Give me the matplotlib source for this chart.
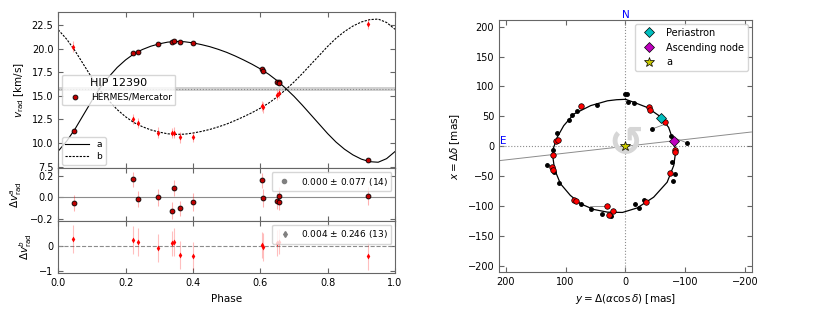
import matplotlib.pyplot as plt
from matplotlib.lines import Line2D

# ---- radial velocity model curves ----
phase_model = [0.0, 0.025, 0.05, 0.075, 0.10, 0.125, 0.15, 0.175, 0.20, 0.225,
               0.25, 0.275, 0.30, 0.325, 0.35, 0.375, 0.40, 0.425, 0.45, 0.475,
               0.50, 0.525, 0.55, 0.575, 0.60, 0.625, 0.65, 0.675, 0.70, 0.725,
               0.75, 0.775, 0.80, 0.825, 0.85, 0.875, 0.90, 0.925, 0.95, 0.975, 1.0]
va_model = [9.15, 10.2, 11.5, 13.0, 14.5, 15.9, 17.0, 18.0, 18.8, 19.45,
            19.9, 20.25, 20.5, 20.68, 20.75, 20.72, 20.6, 20.42, 20.2, 19.92,
            19.6, 19.22, 18.8, 18.35, 17.85, 17.28, 16.6, 15.8, 14.95, 14.0,
            13.0, 12.0, 11.0, 10.1, 9.35, 8.75, 8.3, 8.03, 7.97, 8.35, 9.1]
vb_model = [21.99, 20.99, 19.75, 18.32, 16.89, 15.55, 14.5, 13.54, 12.78, 12.16,
            11.73, 11.39, 11.16, 10.98, 10.92, 10.94, 11.06, 11.23, 11.44, 11.71,
            12.01, 12.38, 12.78, 13.21, 13.69, 14.23, 14.88, 15.64, 16.46, 17.36,
            18.32, 19.27, 20.23, 21.09, 21.8, 22.38, 22.81, 23.06, 23.12, 22.76, 22.04]
v_gamma = 15.72

# ---- HERMES/Mercator measurements ----
phase_a = [0.047, 0.221, 0.236, 0.297, 0.338, 0.343, 0.363, 0.400, 0.604, 0.608,
           0.651, 0.655, 0.656, 0.920]
va_obs = [11.31, 19.5, 19.67, 20.52, 20.66, 20.84, 20.66, 20.59, 17.84, 17.63,
          16.5, 16.43, 16.38, 8.17]
res_a = [-0.055, 0.166, -0.012, 0.0, -0.123, 0.086, -0.10, -0.043, 0.16, -0.006,
         -0.031, 0.015, -0.043, 0.012]
err_a = [0.075, 0.07, 0.075, 0.08, 0.075, 0.075, 0.07, 0.08, 0.07, 0.08,
         0.075, 0.08, 0.075, 0.08]

phase_b = [0.045, 0.221, 0.236, 0.297, 0.338, 0.343, 0.363, 0.400, 0.604, 0.608,
           0.651, 0.655, 0.920]
vb_obs = [20.2, 12.54, 12.12, 11.1, 11.05, 11.1, 10.6, 10.67, 13.92, 13.78,
          15.1, 15.27, 22.6]
res_b = [0.28, 0.22, 0.14, -0.1, 0.1, 0.16, -0.37, -0.42, 0.03, -0.06,
         0.11, 0.16, -0.41]
err_b = [0.55, 0.55, 0.55, 0.55, 0.5, 0.55, 0.55, 0.55, 0.5, 0.55, 0.5, 0.5, 0.55]

# ---- astrometric orbit (mas) ----
orbit_ra = [0, 15, 30, 58, 86, 103, 114, 120.5, 121.5, 119.5, 116.5, 108.5, 92, 75,
            53, 30, 5, -19.5, -47, -69.5, -80.5, -84, -80.5, -72, -58.3, -36, -14, 0]
orbit_dec = [78.5, 77.8, 76, 68, 54, 34.5, 15, -4, -15, -30, -43, -62.5, -82, -96,
             -105.5, -110, -110.5, -103, -85, -60, -32, -7, 7, 31.5, 49.5, 65, 73.5, 78.5]

dots_ra = [-1.7, 1.5, -3.5, -15, 48, 80.6, 88.9, 94.4, 113.9, 120.6, 130.6, 120, 111,
           75, 58.3, 38.9, 23.9, -15.6, -22.2, -31.7, -77.8, -83.3, -79.4, -76,
           -102.8, -44.5]
dots_dec = [87, 87, 74, 72, 69.5, 58.3, 52.2, 44, 21.7, -6, -30.5, -42.2, -61,
            -96, -105.5, -112.7, -116.7, -97.2, -102.7, -89, -26.7, -46, -57.2, 17.8,
            5.6, 29]

red_ra = [74, 116.7, 112.2, 120.6, 123.3, 120.6, 86, 82.2, 30.5, 20.5, 26.7, -35,
          -75, -83.3, -83.3, -38.9, -41.7, -66.7]
red_dec = [66.7, 9.5, 10.6, -14.4, -35, -38.8, -89.4, -92.2, -99.4, -108.3, -114.4,
           -93.3, -44.4, -5.5, -8.9, 66.2, 60.6, 40]

link_ra = [[59.5, 30.5], [-64, -44.5], [-79, -102.8]]
link_dec = [[-99.4, -99.4], [36.2, 29], [15, 5.6]]

node_ra = [210, -210]
node_dec = [-23.9, 23.9]
peri_ra, peri_dec = -60, 47.2
asc_ra, asc_dec = -80.5, 8.4

plt.rcParams['font.size'] = 7
plt.rcParams['xtick.direction'] = 'in'
plt.rcParams['ytick.direction'] = 'in'
plt.rcParams['xtick.top'] = True
plt.rcParams['ytick.right'] = True
plt.rcParams['axes.edgecolor'] = '0.4'
plt.rcParams['xtick.color'] = '0.4'
plt.rcParams['ytick.color'] = '0.4'
plt.rcParams['xtick.labelcolor'] = 'black'
plt.rcParams['ytick.labelcolor'] = 'black'
plt.rcParams['xtick.labelsize'] = 7
plt.rcParams['ytick.labelsize'] = 7

fig = plt.figure(figsize=(8.3, 3.12), dpi=100)
ax1 = fig.add_axes([0.0702, 0.4606, 0.4057, 0.5019])
ax2 = fig.add_axes([0.0702, 0.2917, 0.4057, 0.1689])
ax3 = fig.add_axes([0.0702, 0.1240, 0.4057, 0.1677])
ax4 = fig.add_axes([0.6012, 0.1282, 0.3048, 0.8077])

# top panel: radial velocities
ax1.axhspan(v_gamma - 0.17, v_gamma + 0.17, color='0.82', lw=0)
ax1.axhline(v_gamma, color='0.55', ls=':', lw=0.8)
la, = ax1.plot(phase_model, va_model, color='k', lw=0.8, label='a')
lb, = ax1.plot(phase_model, vb_model, color='k', lw=0.8, ls=(0, (2, 1.2)), label='b')
ax1.errorbar(phase_b, vb_obs, yerr=err_b, fmt='d', color='red', ms=3, mew=0,
             ecolor=(1, 0, 0, 0.3), elinewidth=0.8, zorder=3)
ax1.errorbar(phase_a, va_obs, yerr=err_a, fmt='o', mfc='#c00000', mec='k', mew=0.6,
             ms=3.5, ecolor=(1, 0, 0, 0.3), elinewidth=0.8, zorder=4)
ax1.set_xlim(0, 1)
ax1.set_ylim(7.33, 23.9)
ax1.set_yticks([7.5, 10.0, 12.5, 15.0, 17.5, 20.0, 22.5])
ax1.set_xticks([0, 0.2, 0.4, 0.6, 0.8, 1.0])
ax1.tick_params(labelbottom=False)
ax1.set_ylabel('$v_{\\rm rad}$ [km/s]', fontsize=7.5)

hermes = Line2D([], [], ls='none', marker='o', mfc='#c00000', mec='k', mew=0.6, ms=3.5)
leg1 = ax1.legend(handles=[hermes], labels=['HERMES/Mercator'], title='HIP 12390',
                  loc='center left', fontsize=6.5, title_fontsize=8, borderaxespad=0.4)
ax1.add_artist(leg1)
ax1.legend(handles=[la, lb], loc='lower left', fontsize=6.5, handlelength=2.6,
           borderaxespad=0.4, labelspacing=0.3)

# residuals of component a
ax2.axhline(0, color='0.55', lw=0.8)
ax2.errorbar(phase_a, res_a, yerr=err_a, fmt='o', mfc='#c00000', mec='k', mew=0.6,
             ms=3.5, ecolor=(1, 0, 0, 0.3), elinewidth=0.8)
ax2.set_xlim(0, 1)
ax2.set_ylim(-0.22, 0.27)
ax2.set_yticks([-0.2, 0.0, 0.2])
ax2.set_xticks([0, 0.2, 0.4, 0.6, 0.8, 1.0])
ax2.tick_params(labelbottom=False)
ax2.set_ylabel('$\\Delta v^{a}_{\\rm rad}$', fontsize=7.5)
pa = Line2D([], [], ls='none', marker='o', color='0.5', ms=3)
ax2.legend(handles=[pa], labels=['0.000 $\\pm$ 0.077 (14)'], loc='upper right',
           fontsize=6.5, borderaxespad=0.4)

# residuals of component b
ax3.axhline(0, color='0.55', lw=0.8, ls='--')
ax3.errorbar(phase_b, res_b, yerr=err_b, fmt='d', color='red', ms=3, mew=0,
             ecolor=(1, 0, 0, 0.25), elinewidth=0.8)
ax3.set_xlim(0, 1)
ax3.set_ylim(-1.09, 0.98)
ax3.set_yticks([-1, 0])
ax3.set_xticks([0, 0.2, 0.4, 0.6, 0.8, 1.0])
ax3.set_xlabel('Phase', fontsize=7.5)
ax3.set_ylabel('$\\Delta v^{b}_{\\rm rad}$', fontsize=7.5)
pb = Line2D([], [], ls='none', marker='d', color='0.5', ms=3)
ax3.legend(handles=[pb], labels=['0.004 $\\pm$ 0.246 (13)'], loc='upper right',
           fontsize=6.5, borderaxespad=0.4)

# astrometric orbit
ax4.axhline(0, color='0.55', ls=':', lw=0.8)
ax4.axvline(0, color='0.55', ls=':', lw=0.8)
ax4.plot(node_ra, node_dec, color='0.55', lw=0.7)
ax4.text(0, 4, '\u21ba', fontsize=30, fontweight='bold', color='0.84',
         ha='center', va='center', zorder=2)
ax4.plot(orbit_ra, orbit_dec, color='k', lw=0.9, zorder=3)
for lr, ld in zip(link_ra, link_dec):
    ax4.plot(lr, ld, color='0.5', lw=0.6, zorder=3)
ax4.plot(dots_ra, dots_dec, 'o', color='k', ms=2.5, zorder=4)
ax4.plot(red_ra, red_dec, 'o', mfc='red', mec='k', mew=0.5, ms=4, zorder=5)
ax4.plot(peri_ra, peri_dec, 'D', mfc='c', mec='k', mew=0.5, ms=5, zorder=6,
         label='Periastron')
ax4.plot(asc_ra, asc_dec, 'D', mfc='m', mec='k', mew=0.5, ms=5, zorder=6,
         label='Ascending node')
ax4.plot(0, 0, '*', mfc='#c8c800', mec='k', mew=0.5, ms=7, zorder=6, label='a')
ax4.set_xlim(211, -211)
ax4.set_ylim(-210, 211)
ax4.set_xticks([200, 100, 0, -100, -200])
ax4.set_yticks([-200, -150, -100, -50, 0, 50, 100, 150, 200])
ax4.text(0, 211, 'N', color='blue', ha='center', va='bottom', fontsize=7.5)
ax4.text(210, 0, 'E', color='blue', ha='left', va='bottom', fontsize=7.5)
ax4.set_xlabel('$y = \\Delta(\\alpha \\cos\\delta)$ [mas]', fontsize=7.5)
ax4.set_ylabel('$x = \\Delta\\delta$ [mas]', fontsize=7.5)
ax4.legend(loc='upper right', fontsize=7, borderaxespad=0.4)

fig.savefig('out.png', dpi=100)
